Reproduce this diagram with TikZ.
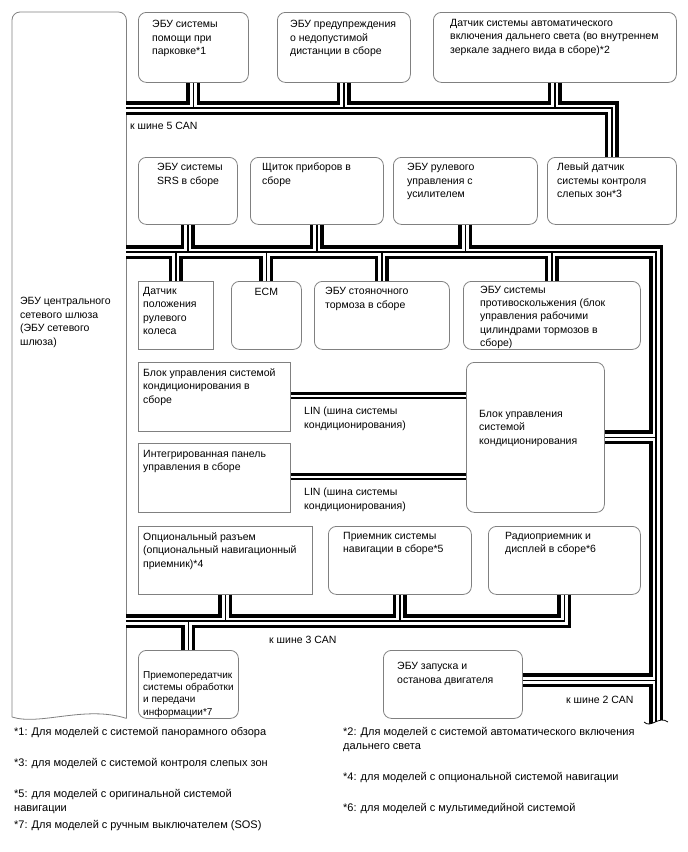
\documentclass[tikz,border=0pt]{standalone}
\usepackage{fontspec}
\setmainfont{Liberation Sans}
\usetikzlibrary{calc}
\tikzset{
  ecu/.style={rectangle, rounded corners=8, draw=black!50, line width=0.8, fill=white,
              anchor=north west, inner sep=0},
  blk/.style={rectangle, draw=black!50, line width=0.8, fill=white,
              anchor=north west, inner sep=0},
  txt/.style={anchor=north west, align=left, inner sep=0,
              font=\fontsize{10.5}{13.5}\selectfont},
  note/.style={anchor=north west, align=left, inner sep=0,
               font=\fontsize{11}{14}\selectfont},
  busout/.style={line width=14, black, line join=miter},
  busin/.style={line width=7, white, line join=miter},
  busmid/.style={line width=1.4, black, line join=miter},
  linthick/.style={line width=3.2},
  linthin/.style={line width=1.2},
}

\begin{document}
\begin{tikzpicture}[x=1pt, y=-1pt]
  \useasboundingbox (0,0) rectangle (688,852);

  % gateway
  \node[minimum width=114, minimum height=706, anchor=north west, inner sep=0] (gw) at (12,12) {};
  \draw[black!50, line width=0.8, rounded corners=8] (12,717) -- (gw.north west) -- (gw.north east) -- (gw.south east);
  \draw[black!50, line width=0.8] (gw.south east) .. controls (85,705) and (40,726) .. (12,717);
  \node[txt] (gw-t) at (20,297) {ЭБУ центрального\\сетевого шлюза\\(ЭБУ сетевого\\шлюза)};

  % row 1
  \node[ecu, minimum width=110, minimum height=70] (park) at (138,12) {};
  \node[txt] (park-t) at ([shift={(14,8)}]park.north west) {ЭБУ системы\\помощи при\\парковке*1};
  \node[ecu, minimum width=133, minimum height=70] (dist) at (277,12) {};
  \node[txt] (dist-t) at ([shift={(13,8)}]dist.north west) {ЭБУ предупреждения\\о недопустимой\\дистанции в сборе};
  \node[ecu, minimum width=243, minimum height=70] (beam) at (433,12) {};
  \node[txt] (beam-t) at ([shift={(17,7)}]beam.north west) {Датчик системы автоматического\\включения дальнего света (во внутреннем\\зеркале заднего вида в сборе)*2};

  % row 2
  \node[ecu, minimum width=99, minimum height=67] (srs) at (138,157) {};
  \node[txt] (srs-t) at ([shift={(19,6)}]srs.north west) {ЭБУ системы\\SRS в сборе};
  \node[ecu, minimum width=133, minimum height=67] (meter) at (250,157) {};
  \node[txt] (meter-t) at ([shift={(12,6)}]meter.north west) {Щиток приборов в\\сборе};
  \node[ecu, minimum width=144, minimum height=67] (eps) at (393,157) {};
  \node[txt] (eps-t) at ([shift={(14,6)}]eps.north west) {ЭБУ рулевого\\управления с\\усилителем};
  \node[ecu, minimum width=129, minimum height=67] (bsm) at (547,157) {};
  \node[txt] (bsm-t) at ([shift={(10,6)}]bsm.north west) {Левый датчик\\системы контроля\\слепых зон*3};

  % row 3
  \node[blk, minimum width=75, minimum height=68] (sas) at (138,281) {};
  \node[txt] (sas-t) at ([shift={(5,6)}]sas.north west) {Датчик\\положения\\рулевого\\колеса};
  \node[ecu, minimum width=70, minimum height=68] (ecm) at (231,281) {};
  \node[txt, anchor=north] (ecm-t) at ([yshift=-7]ecm.north) {ECM};
  \node[ecu, minimum width=135, minimum height=68] (epb) at (314,281) {};
  \node[txt] (epb-t) at ([shift={(11,6)}]epb.north west) {ЭБУ стояночного\\тормоза в сборе};
  \node[ecu, minimum width=177, minimum height=68] (vsc) at (463,281) {};
  \node[txt, font=\fontsize{10.5}{13.2}\selectfont] (vsc-t) at ([shift={(17,5)}]vsc.north west) {ЭБУ системы\\противоскольжения (блок\\управления рабочими\\цилиндрами тормозов в\\сборе)};

  % air conditioning
  \node[blk, minimum width=152, minimum height=69] (acunit) at (138,362) {};
  \node[txt] (acunit-t) at ([shift={(5,6)}]acunit.north west) {Блок управления системой\\кондиционирования в\\сборе};
  \node[blk, minimum width=152, minimum height=69] (acpanel) at (138,443) {};
  \node[txt] (acpanel-t) at ([shift={(5,7)}]acpanel.north west) {Интегрированная панель\\управления в сборе};
  \node[ecu, minimum width=138, minimum height=150] (acecu) at (466,362) {};
  \node[txt] (acecu-t) at ([shift={(13,48)}]acecu.north west) {Блок управления\\системой\\кондиционирования};

  % navigation row
  \node[blk, minimum width=174, minimum height=68] (optcon) at (138,526) {};
  \node[txt] (optcon-t) at ([shift={(5,6)}]optcon.north west) {Опциональный разъем\\(опциональный навигационный\\приемник)*4};
  \node[ecu, minimum width=143, minimum height=68] (navi) at (328,526) {};
  \node[txt] (navi-t) at ([shift={(15,6)}]navi.north west) {Приемник системы\\навигации в сборе*5};
  \node[ecu, minimum width=152, minimum height=68] (radio) at (488,526) {};
  \node[txt] (radio-t) at ([shift={(17,6)}]radio.north west) {Радиоприемник и\\дисплей в сборе*6};

  % bottom row
  \node[ecu, minimum width=100, minimum height=68] (dcm) at (138,650) {};
  \node[txt, font=\fontsize{10}{12.4}\selectfont] (dcm-t) at ([shift={(5,21)}]dcm.north west) {Приемопередатчик\\системы обработки\\и передачи\\информации*7};
  \node[ecu, minimum width=139, minimum height=68] (stst) at (383,650) {};
  \node[txt] (stst-t) at ([shift={(14,12)}]stst.north west) {ЭБУ запуска и\\останова двигателя};

  % bus lines
  \coordinate (b5) at (0,108);
  \coordinate (bm) at (0,252);
  \coordinate (b3) at (0,621);
  \coordinate (trk) at (656,0);
  \coordinate (trkend) at (656,730);
  \coordinate (s2) at ($(stst.east)+(0,-4)$);
  \foreach \lay in {busout,busin,busmid}{
    % CAN 5
    \draw[\lay] (gw.east |- b5) -- (bsm.north |- b5) -- (bsm.north)
      (park.south) -- (park.south |- b5) (dist.south) -- (dist.south |- b5)
      (beam.south) -- (beam.south |- b5);
    % main + trunk
    \draw[\lay] (gw.east |- bm) -- (trk |- bm) -- (trkend)
      (srs.south) -- (srs.south |- bm) (meter.south) -- (meter.south |- bm)
      (eps.south) -- (eps.south |- bm)
      (sas.north) -- (sas.north |- bm) (ecm.north) -- (ecm.north |- bm)
      (epb.north) -- (epb.north |- bm) (vsc.north) -- (vsc.north |- bm)
      (acecu.east) -- (acecu.east -| trk) (s2) -- (s2 -| trk);
    % CAN 3
    \draw[\lay] (gw.east |- b3) -- (radio.south |- b3) -- (radio.south)
      (optcon.south) -- (optcon.south |- b3) (navi.south) -- (navi.south |- b3)
      (dcm.north) -- (dcm.north |- b3);
  }
  % trunk break
  \fill[white] (644,722) .. controls (651,729) and (659,715) .. (668,722) -- (668,742) -- (644,742) -- cycle;
  \draw[line width=0.8] (644,722) .. controls (651,729) and (659,715) .. (668,722);

  % LIN
  \draw[linthick] ($(acunit.east)+(0,-3.5)$) -- ($(acunit.east -| acecu.west)+(0,-3.5)$);
  \draw[linthin] ($(acunit.east)+(0,1)$) -- ($(acunit.east -| acecu.west)+(0,1)$);
  \draw[linthick] ($(acpanel.east)+(0,-3.5)$) -- ($(acpanel.east -| acecu.west)+(0,-3.5)$);
  \draw[linthin] ($(acpanel.east)+(0,1)$) -- ($(acpanel.east -| acecu.west)+(0,1)$);
  \node[txt] (lin1-t) at (304,407) {LIN (шина системы\\кондиционирования)};
  \node[txt] (lin2-t) at (304,488) {LIN (шина системы\\кондиционирования)};

  % bus labels
  \node[txt] (can5-t) at (130,122) {к шине 5 CAN};
  \node[txt] (can3-t) at (269,636) {к шине 3 CAN};
  \node[txt] (can2-t) at (566,696) {к шине 2 CAN};

  % footnotes
  \node[note] (fn1) at (14,727) {*1: Для моделей с системой панорамного обзора};
  \node[note] (fn2) at (343,727) {*2: Для моделей с системой автоматического включения\\дальнего света};
  \node[note] (fn3) at (14,758) {*3: для моделей с системой контроля слепых зон};
  \node[note] (fn4) at (343,772) {*4: для моделей с опциональной системой навигации};
  \node[note] (fn5) at (14,789) {*5: для моделей с оригинальной системой\\навигации};
  \node[note] (fn6) at (343,803) {*6: для моделей с мультимедийной системой};
  \node[note] (fn7) at (14,820) {*7: Для моделей с ручным выключателем (SOS)};
\end{tikzpicture}
\end{document}
